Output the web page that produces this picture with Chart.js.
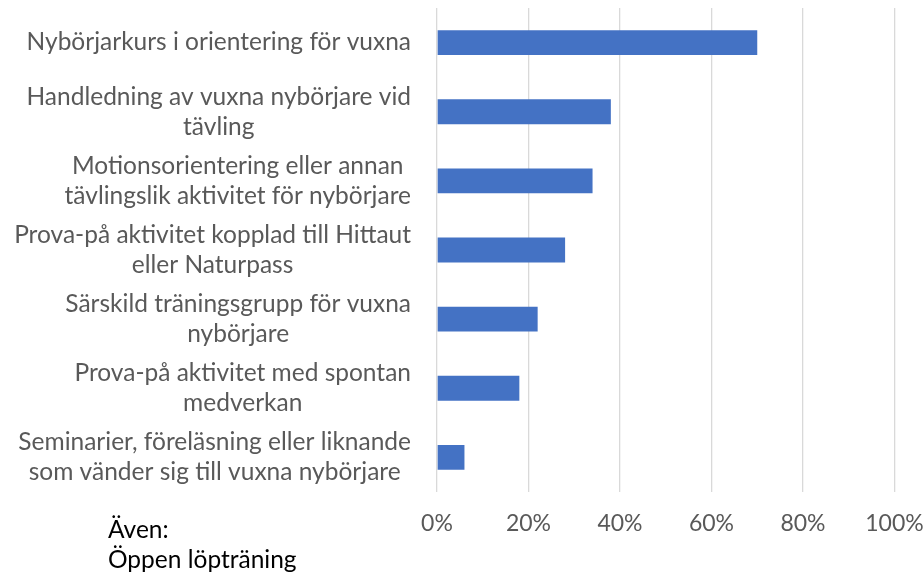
<!DOCTYPE html>
<html>
<head>
<meta charset="utf-8">
<script src="https://cdn.jsdelivr.net/npm/chart.js@4/dist/chart.umd.min.js"></script>
<style>
  html, body { margin: 0; padding: 0; background: #fff; overflow: hidden; }
  #wrap { position: relative; width: 923px; height: 577px; }
  canvas { display: block; }
  #note { position: absolute; left: 108px; top: 514px; font-family: Lato, sans-serif; font-size: 24.5px; line-height: 30px; color: #000; white-space: nowrap; }
</style>
</head>
<body>
<div id="wrap">
  <canvas id="c" width="923" height="577"></canvas>
  <div id="note">Även:<br>Öppen löpträning</div>
</div>
<script>
const categories = [
  ["Nybörjarkurs i orientering för vuxna"],
  ["Handledning av vuxna nybörjare vid", "tävling"],
  ["Motionsorientering eller annan", "tävlingslik aktivitet för nybörjare"],
  ["Prova-på aktivitet kopplad till Hittaut", "eller Naturpass"],
  ["Särskild träningsgrupp för vuxna", "nybörjare"],
  ["Prova-på aktivitet med spontan", "medverkan"],
  ["Seminarier, föreläsning eller liknande", "som vänder sig till vuxna nybörjare"]
];
const values = [70, 38, 34, 28, 22, 18, 6];
const xTickMin = 0;
const xTickMax = 100;
const xTickStep = 20;

const FONT = 'Lato, sans-serif';
const LABEL_SIZE = 24.5;
const LABEL_LINE = 30;
const LABEL_RIGHT = 411;

const catLabelPlugin = {
  id: 'catLabels',
  afterDraw(chart) {
    const ctx = chart.ctx;
    const y = chart.scales.y;
    ctx.save();
    ctx.font = LABEL_SIZE + 'px ' + FONT;
    ctx.fillStyle = '#595959';
    ctx.textAlign = 'center';
    ctx.textBaseline = 'middle';
    chart.data.labels.forEach((lines, i) => {
      const cy = y.getPixelForValue(i);
      const w = Math.max(...lines.map(l => ctx.measureText(l).width));
      const cx = LABEL_RIGHT - w / 2;
      const y0 = cy - (lines.length - 1) * LABEL_LINE / 2;
      lines.forEach((l, k) => ctx.fillText(l, cx, y0 + k * LABEL_LINE));
    });
    ctx.restore();
  }
};

new Chart(document.getElementById('c'), {
  type: 'bar',
  data: {
    labels: categories,
    datasets: [{
      data: values,
      backgroundColor: '#4472C4',
      borderWidth: 0,
      barPercentage: 0.36,
      categoryPercentage: 1
    }]
  },
  options: {
    indexAxis: 'y',
    responsive: false,
    animation: false,
    layout: { padding: { top: 8, right: 0, bottom: 0, left: 0 } },
    plugins: { legend: { display: false }, tooltip: { enabled: false } },
    scales: {
      x: {
        min: xTickMin,
        max: xTickMax,
        ticks: {
          stepSize: xTickStep,
          callback: v => v + '%',
          color: '#595959',
          font: { family: FONT, size: 23 },
          padding: 18,
          maxRotation: 0
        },
        grid: { color: '#d9d9d9', lineWidth: 1.3, drawTicks: false },
        border: { display: false },
        afterFit: s => { s.height = 85; s.paddingRight = 28.5; s.paddingLeft = 0; }
      },
      y: {
        ticks: { display: false },
        grid: { display: false },
        border: { display: false },
        afterFit: s => { s.width = 437; }
      }
    }
  },
  plugins: [catLabelPlugin]
});
</script>
</body>
</html>
